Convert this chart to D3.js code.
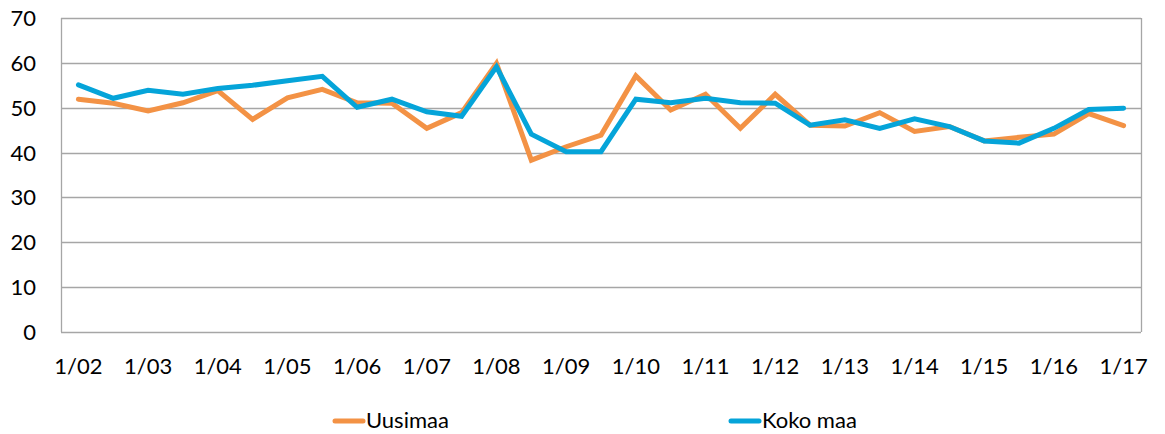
<!DOCTYPE html>
<html>
<head>
<meta charset="utf-8">
<script src="https://cdn.jsdelivr.net/npm/d3@7"></script>
<style>
  html, body { margin: 0; padding: 0; background: #fff; overflow: hidden; }
  svg { display: block; overflow: visible; }
  text { font-family: Lato, "Open Sans", sans-serif; fill: #000; }
</style>
</head>
<body>
<div id="plot"></div>
<script>
// chart data, half-year steps from 1/02 to 1/17
const periods = ["1/02","7/02","1/03","7/03","1/04","7/04","1/05","7/05","1/06","7/06",
  "1/07","7/07","1/08","7/08","1/09","7/09","1/10","7/10","1/11","7/11",
  "1/12","7/12","1/13","7/13","1/14","7/14","1/15","7/15","1/16","7/16","1/17"];
const uusimaa = [51.9, 51, 49.3, 51.1, 53.8, 47.4, 52.2, 54.1, 51.1, 51,
  45.4, 48.9, 59.9, 38.3, 41.3, 43.9, 57.1, 49.5, 53, 45.4,
  53, 46.1, 45.9, 48.9, 44.7, 45.8, 42.6, 43.4, 44.1, 48.7, 46];
const kokoMaa = [55.1, 52.1, 53.9, 53, 54.3, 55, 56, 57, 50.1, 51.9,
  49.1, 48.1, 59.1, 44.1, 40.2, 40.2, 51.9, 51.1, 52.1, 51.1,
  51, 46.1, 47.3, 45.4, 47.5, 45.8, 42.6, 42.1, 45.4, 49.6, 49.9];
const yTicks = [0, 10, 20, 30, 40, 50, 60, 70];
const tickLabels = ["1/02","1/03","1/04","1/05","1/06","1/07","1/08","1/09",
  "1/10","1/11","1/12","1/13","1/14","1/15","1/16","1/17"];
const seriesNames = ["Uusimaa", "Koko maa"];
const colors = ["#F39245", "#05A4D9"];

const w = 1165;
const h = 434;
const margin = {top: 18, right: 24, bottom: 102, left: 61};
const innerWidth = w - margin.left - margin.right;
const innerHeight = h - margin.top - margin.bottom;

const svg = d3.select("div#plot")
  .append("svg")
    .attr("width", w)
    .attr("height", h);

const g = svg.append("g")
  .attr("transform", `translate(${margin.left}, ${margin.top})`);

const xScale = d3.scalePoint()
  .domain(periods)
  .range([0, innerWidth])
  .padding(0.5);

const yScale = d3.scaleLinear()
  .domain([0, 70])
  .range([innerHeight, 0]);

// gridlines
g.selectAll("line.grid")
  .data(yTicks)
  .enter()
  .append("line")
    .attr("class", "grid")
    .attr("x1", 0)
    .attr("x2", innerWidth)
    .attr("y1", d => Math.round(yScale(d)) + 0.5)
    .attr("y2", d => Math.round(yScale(d)) + 0.5)
    .attr("stroke", "#a6a6a6")
    .attr("stroke-width", 1.3);

// side borders
[0, innerWidth].forEach(x => {
  g.append("line")
    .attr("x1", x + 0.5).attr("x2", x + 0.5)
    .attr("y1", 0).attr("y2", innerHeight)
    .attr("stroke", "#a6a6a6")
    .attr("stroke-width", 1.3);
});

// y labels
g.selectAll("text.ylab")
  .data(yTicks)
  .enter()
  .append("text")
    .attr("class", "ylab")
    .attr("x", -25)
    .attr("y", d => yScale(d) + 8)
    .attr("text-anchor", "end")
    .style("font-size", "22px")
    .text(d => d);

// x labels
g.selectAll("text.xlab")
  .data(tickLabels)
  .enter()
  .append("text")
    .attr("class", "xlab")
    .attr("x", d => xScale(d))
    .attr("y", innerHeight + 42)
    .attr("text-anchor", "middle")
    .style("font-size", "22px")
    .text(d => d);

// lines
const line = d3.line()
  .x((d, i) => xScale(periods[i]))
  .y(d => yScale(d));

[uusimaa, kokoMaa].forEach((data, k) => {
  g.append("path")
    .datum(data)
    .attr("d", line)
    .attr("fill", "none")
    .attr("stroke", colors[k])
    .attr("stroke-width", 5)
    .attr("stroke-linejoin", "miter")
    .attr("stroke-linecap", "round");
});

// legend
const legendX = [335, 731];
seriesNames.forEach((name, k) => {
  svg.append("line")
    .attr("x1", legendX[k]).attr("x2", legendX[k] + 28)
    .attr("y1", 421).attr("y2", 421)
    .attr("stroke", colors[k])
    .attr("stroke-width", 5)
    .attr("stroke-linecap", "round");
  svg.append("text")
    .attr("x", legendX[k] + 31)
    .attr("y", 428)
    .style("font-size", "22px")
    .text(name);
});
</script>
</body>
</html>
